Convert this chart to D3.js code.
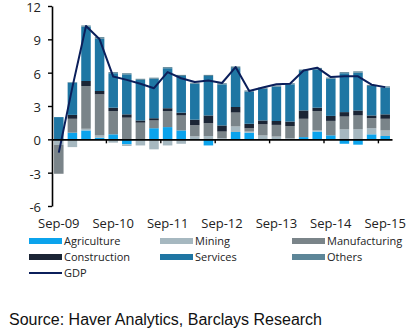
<!DOCTYPE html>
<html>
<head>
<meta charset="utf-8">
<script src="https://cdn.jsdelivr.net/npm/d3@7"></script>
<style>
  body { margin: 0; background: #fff; }
  svg { display: block; }
</style>
</head>
<body>
<script>
// quarterly contributions to GDP growth, % y/y (pp)
var quarters = ["Sep-09", "Dec-09", "Mar-10", "Jun-10", "Sep-10", "Dec-10", "Mar-11", "Jun-11",
  "Sep-11", "Dec-11", "Mar-12", "Jun-12", "Sep-12", "Dec-12", "Mar-13", "Jun-13",
  "Sep-13", "Dec-13", "Mar-14", "Jun-14", "Sep-14", "Dec-14", "Mar-15", "Jun-15", "Sep-15"];

var agriculture   = [0, 0.6, 0.8, 0.15, 0.45, -0.45, 0, 1.0, 1.1, 0.8, 0, -0.55, 0, 0.66, 0.6, 0, 0, 0, 0.2, 0.7, 0.36, -0.4, -0.48, 0.45, 0.3];
var mining        = [-0.5, -0.7, 0.15, 0.2, -0.3, -0.15, -0.55, -0.9, -0.55, -0.4, 0.27, 0.3, 0.1, 0.5, 0.1, 0.35, 0.25, 0.1, 0, 0.1, 0, 0.9, 0.9, 0.55, 0.5];
var manufacturing = [-2.6, 1.25, 3.85, 3.7, 2.1, 1.95, 1.5, 0.7, 1.45, 1.35, 1.0, 1.15, 0.6, 1.25, 0.3, 1.0, 1.05, 1.1, 1.65, 1.75, 1.3, 1.15, 1.25, 0.9, 1.05];
var construction  = [0, 0.35, 0.45, 0.3, 0.3, 0.3, 0.2, 0.2, 0.25, 0.25, 0.5, 0.7, 0.55, 0.5, 0.4, 0.35, 0.35, 0.4, 0.75, 0.3, 0.45, 0.4, 0.45, 0.25, 0.4];
var services      = [2.0, 2.9, 4.9, 4.7, 3.1, 3.6, 3.65, 3.55, 3.6, 3.3, 3.23, 3.55, 3.7, 3.5, 2.9, 2.85, 3.1, 3.35, 3.55, 3.45, 3.35, 3.5, 3.4, 2.65, 2.42];
var others        = [0, 0.05, 0.1, 0.15, 0.1, 0.1, 0.1, 0.1, 0.1, 0.1, 0.1, 0.1, 0.1, 0.15, 0.1, 0.1, 0.1, 0.1, 0.13, 0.13, 0.1, 0.1, 0.12, 0.1, 0.1];
var gdp           = [-1.2, 4.7, 10.2, 9.0, 5.65, 5.35, 5.0, 4.6, 6.05, 5.5, 5.16, 5.3, 5.07, 6.5, 4.35, 4.66, 4.95, 5.0, 6.2, 6.45, 5.6, 5.67, 5.67, 4.92, 4.7];

var yTicks = [-6, -3, 0, 3, 6, 9, 12];
var xLabels = ["Sep-09", "Sep-10", "Sep-11", "Sep-12", "Sep-13", "Sep-14", "Sep-15"];

var seriesNames = ["Agriculture", "Mining", "Manufacturing", "Construction", "Services", "Others"];
var seriesColors = ["#0ba3ec", "#a6b8c0", "#7a8489", "#1b2535", "#1f76a3", "#5d8698"];
var lineColor = "#0b1f5b";

var rows = quarters.map(function (q, i) {
  return {
    q: q,
    Agriculture: agriculture[i],
    Mining: mining[i],
    Manufacturing: manufacturing[i],
    Construction: construction[i],
    Services: services[i],
    Others: others[i]
  };
});

var W = 406, H = 333;
var svg = d3.select("body").append("svg")
  .attr("width", W)
  .attr("height", H)
  .style("font-family", "'Open Sans', sans-serif");

var x = d3.scaleBand()
  .domain(quarters)
  .range([52, 392])
  .paddingInner(0.3)
  .paddingOuter(0.15);

var y = d3.scaleLinear()
  .domain([-6, 12])
  .range([206, 6]);

var stacked = d3.stack()
  .keys(seriesNames)
  .offset(d3.stackOffsetDiverging)(rows);

// stacked bars
svg.append("g").selectAll("g")
  .data(stacked)
  .enter().append("g")
  .attr("fill", function (d, i) { return seriesColors[i]; })
  .selectAll("rect")
  .data(function (d) { return d; })
  .enter().append("rect")
  .attr("x", function (d) { return x(d.data.q); })
  .attr("width", x.bandwidth())
  .attr("y", function (d) { return y(Math.max(d[0], d[1])); })
  .attr("height", function (d) { return Math.abs(y(d[0]) - y(d[1])); });

// GDP line
var line = d3.line()
  .x(function (d, i) { return x(quarters[i]) + x.bandwidth() / 2; })
  .y(function (d) { return y(d); });

svg.append("path")
  .datum(gdp)
  .attr("d", line)
  .attr("fill", "none")
  .attr("stroke", lineColor)
  .attr("stroke-width", 2)
  .attr("stroke-linejoin", "round");

// y axis, plain hyphen for negatives
var yAxis = svg.append("g")
  .attr("transform", "translate(52,0)")
  .call(d3.axisLeft(y).tickValues(yTicks).tickSize(4).tickSizeOuter(0).tickPadding(7)
    .tickFormat(function (d) { return String(d); }));
yAxis.select(".domain").attr("stroke", "#000").attr("stroke-width", 1.6);
yAxis.selectAll(".tick line").attr("stroke", "#000").attr("stroke-width", 1.4);
yAxis.selectAll("text").attr("font-size", 13).attr("dy", "0.42em").attr("fill", "#222")
  .style("font-family", "'Open Sans', sans-serif");

// x axis with labels under the plot
var xAxis = svg.append("g")
  .attr("transform", "translate(0," + y(0) + ")")
  .call(d3.axisBottom(x).tickValues(xLabels).tickSize(0).tickPadding(79));
xAxis.select(".domain").attr("stroke", "#000").attr("stroke-width", 1.6);
xAxis.selectAll("text").attr("font-size", 13).attr("fill", "#222").style("font-family", "'Open Sans', sans-serif");

// year tick marks sit between Jun and Sep bars
var half = x.step() * x.paddingInner() / 2;
xAxis.selectAll(".yearTick")
  .data(xLabels.slice(1))
  .enter().append("line")
  .attr("x1", function (d) { return x(d) - half; })
  .attr("x2", function (d) { return x(d) - half; })
  .attr("y1", 0)
  .attr("y2", 4)
  .attr("stroke", "#000")
  .attr("stroke-width", 1.4);

// legend
var legendRows = [241, 257, 273];
var legendCols = [29, 160, 292];
var legend = svg.append("g").attr("font-size", 11).attr("fill", "#222");

seriesNames.forEach(function (name, i) {
  var lx = legendCols[i % 3], ly = legendRows[Math.floor(i / 3)];
  legend.append("rect")
    .attr("x", lx).attr("y", ly - 3)
    .attr("width", 33).attr("height", 6)
    .attr("fill", seriesColors[i]);
  legend.append("text")
    .attr("x", lx + 35).attr("y", ly + 4)
    .text(name);
});
legend.append("line")
  .attr("x1", legendCols[0]).attr("x2", legendCols[0] + 33)
  .attr("y1", legendRows[2]).attr("y2", legendRows[2])
  .attr("stroke", lineColor).attr("stroke-width", 2);
legend.append("text")
  .attr("x", legendCols[0] + 35).attr("y", legendRows[2] + 4)
  .text("GDP");

// source note
svg.append("text")
  .attr("x", 9)
  .attr("y", 325)
  .attr("font-size", 16)
  .attr("fill", "#111")
  .style("font-family", "'Liberation Sans', Arial, sans-serif")
  .text("Source: Haver Analytics, Barclays Research");
</script>
</body>
</html>
